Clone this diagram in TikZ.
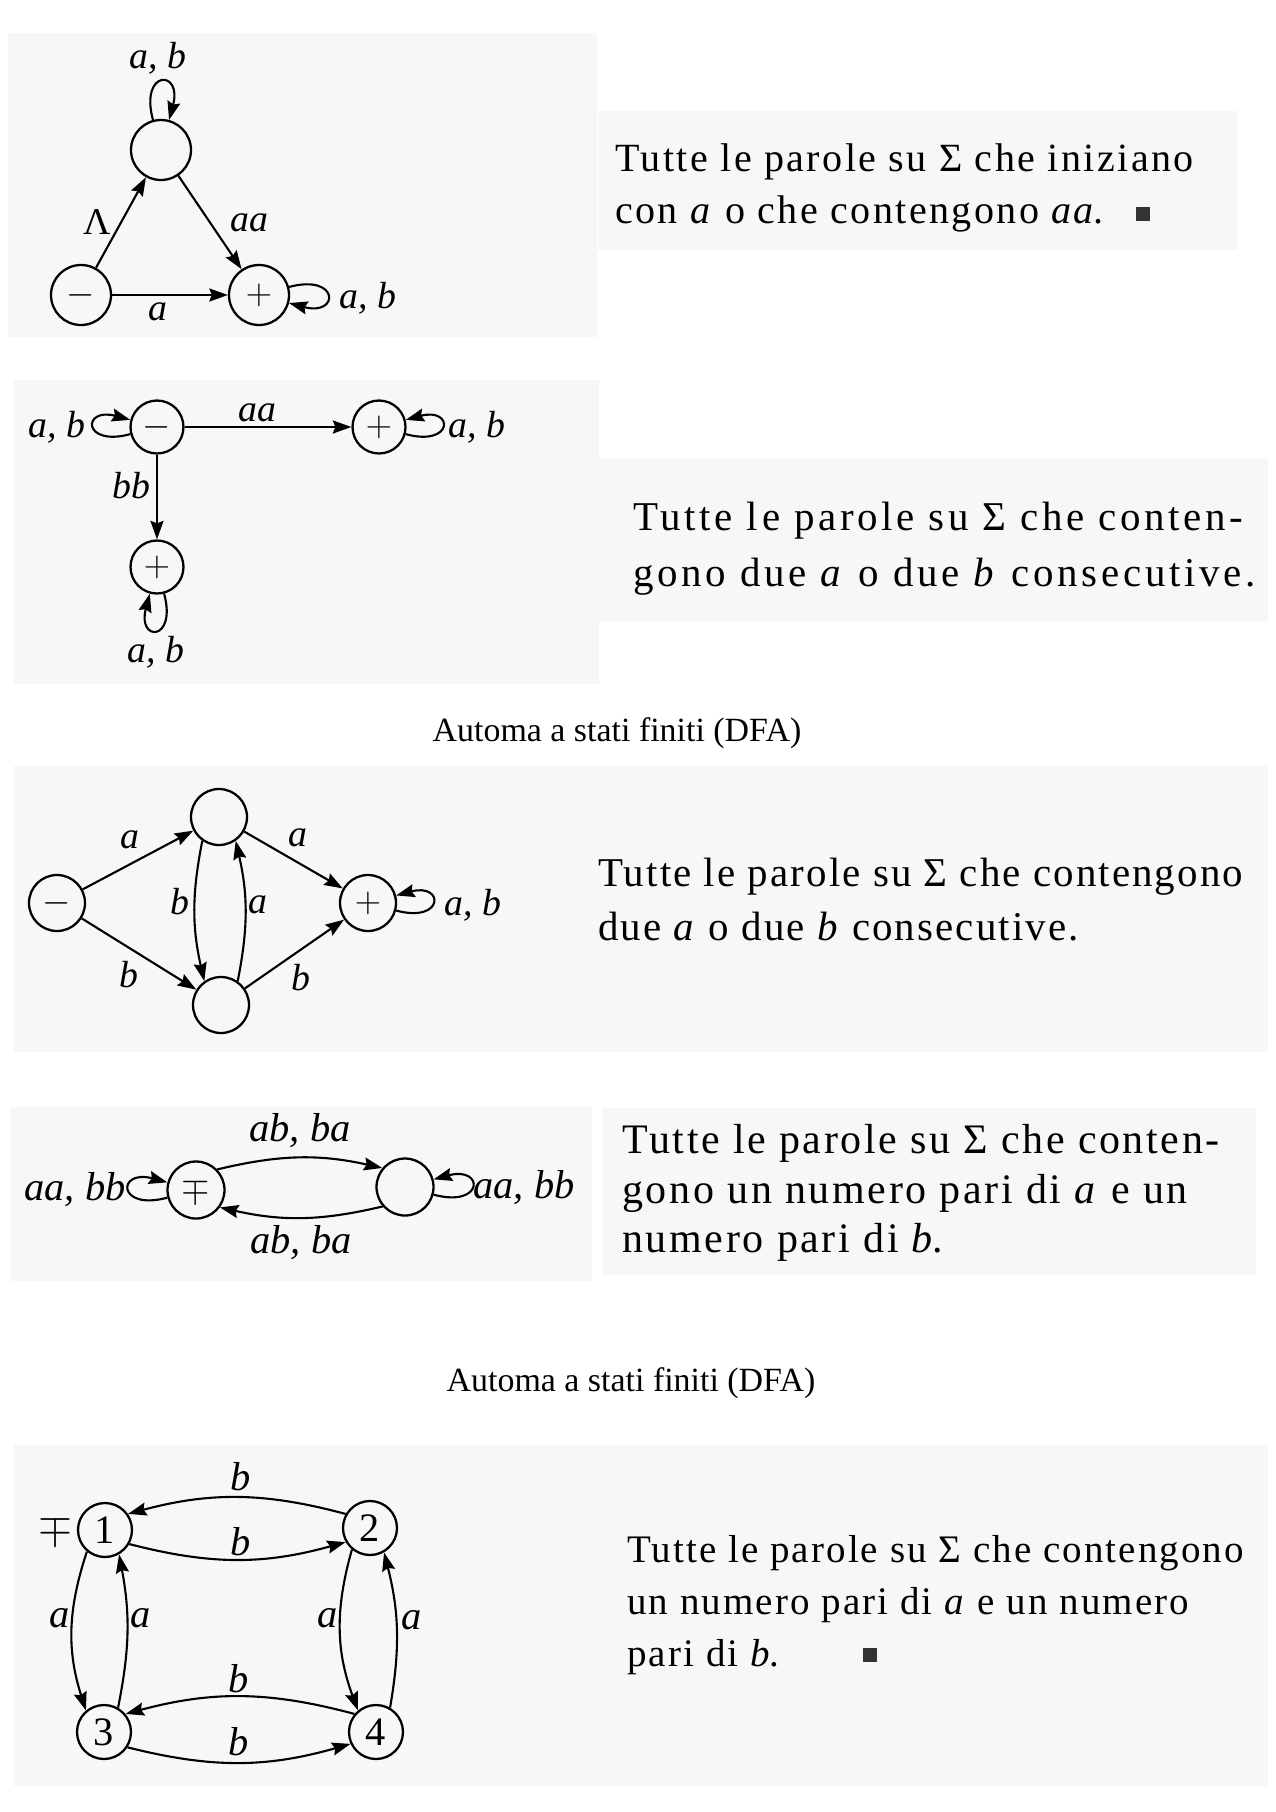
\documentclass[tikz,border=0pt]{standalone}
\usepackage{amsmath, amssymb}
\usepackage{fontspec}
\newfontfamily\titlefont{Liberation Serif}
\newfontfamily\corpo{Liberation Serif}
\usetikzlibrary{arrows.meta}

\tikzset{
  stato/.style={circle, draw, line width=1.3pt, inner sep=0pt, minimum size=#1, font=\fontsize{22}{26}\selectfont},
  stato/.default=1.12cm,
  freccia/.style={->, line width=1.2pt},
  etich/.style={inner sep=0pt, font=\corpo\itshape\fontsize{21.5}{26}\selectfont},
  etichg/.style={inner sep=0pt, font=\corpo\itshape\fontsize{23}{28}\selectfont},
  pannello/.style={fill=black!3},
  testo/.style={align=left, anchor=west, inner sep=0pt},
  fine/.style={fill=black!80, inner sep=0pt, minimum size=0.28cm},
  titolo/.style={font=\titlefont\fontsize{19.3}{23}\selectfont, inner sep=0pt},
}

\begin{document}
\begin{tikzpicture}[x=0.02cm, y=0.02cm, >={Stealth[length=0.37cm, width=0.26cm, inset=0.05cm]}]
    \useasboundingbox (0,0) rectangle (1275,-1812);
    \fill[white] (0,0) rectangle (1275,-1812);

    % Sfondi dei riquadri
    \fill[pannello] (8,-33) rectangle (597,-337);
    \fill[pannello] (598,-111) rectangle (1238,-250);
    \fill[pannello] (14,-380) rectangle (599,-684);
    \fill[pannello] (598,-459) rectangle (1268,-622);
    \fill[pannello] (14,-766) rectangle (1268,-1052);
    \fill[pannello] (10,-1107) rectangle (592,-1281);
    \fill[pannello] (602,-1108) rectangle (1256,-1275);
    \fill[pannello] (14,-1445) rectangle (1268,-1786);

    % Inizia con a o contiene aa
    \node[stato=1.2cm] (q0) at (81,-295) {$-$};
    \node[stato=1.2cm] (q1) at (161,-150) {};
    \node[stato=1.2cm] (q2) at (259,-295) {$+$};
    \draw[freccia] (q0) -- (q1);
    \draw[freccia] (q1) -- (q2);
    \draw[freccia] (q0) -- (q2);
    \draw[freccia] (q1.105) to[out=105, in=75, min distance=1.05cm] (q1.75);
    \draw[freccia] (q2.15) to[out=15, in=-15, min distance=1.05cm] (q2.-15);
    \node[etich] (l1) at (158,-58) {a, b};
    \node[etich, font=\corpo\fontsize{21.5}{26}\selectfont] (l2) at (97,-222) {Λ};
    \node[etich] (l3) at (249,-223) {aa};
    \node[etich] (l4) at (158,-312) {a};
    \node[etich] (l5) at (368,-298) {a, b};
    \node[testo, font=\corpo\fontsize{22.8}{30}\selectfont\addfontfeatures{LetterSpace=6}] (t1) at (615,-188)
        {Tutte le parole su Σ che iniziano\\con \textit{a} o che contengono \textit{aa}.};
    \node[fine] (f1) at (1143,-214) {};

    % Due a o due b consecutive
    \node[stato=1.06cm] (r0) at (157,-427) {$-$};
    \node[stato=1.06cm] (r1) at (379,-427) {$+$};
    \node[stato=1.06cm] (r2) at (157,-567) {$+$};
    \draw[freccia] (r0) -- (r1);
    \draw[freccia] (r0) -- (r2);
    \draw[freccia] (r0.195) to[out=195, in=165, min distance=1cm] (r0.165);
    \draw[freccia] (r1.-15) to[out=-15, in=15, min distance=1cm] (r1.15);
    \draw[freccia] (r2.285) to[out=285, in=255, min distance=1cm] (r2.255);
    \node[etich] (m1) at (57,-427) {a, b};
    \node[etich] (m2) at (257,-413) {aa};
    \node[etich] (m3) at (477,-427) {a, b};
    \node[etich] (m4) at (131,-486) {bb};
    \node[etich] (m5) at (156,-652) {a, b};
    \node[testo, font=\corpo\fontsize{23.3}{32}\selectfont\addfontfeatures{LetterSpace=9}] (t2) at (633,-549)
        {Tutte le parole su Σ che conten-\\gono due \textit{a} o due \textit{b} consecutive.};

    \node[titolo] (h1) at (617,-733) {Automa a stati finiti (DFA)};

    % DFA: due a o due b consecutive
    \node[stato] (s0) at (57,-903) {$-$};
    \node[stato] (s1) at (219,-817) {};
    \node[stato] (s2) at (221,-1005) {};
    \node[stato] (s3) at (368,-903) {$+$};
    \draw[freccia] (s0) -- (s1);
    \draw[freccia] (s0) -- (s2);
    \draw[freccia] (s1) -- (s3);
    \draw[freccia] (s2) -- (s3);
    \draw[freccia] (s1.235) to[bend right=12] (s2.125);
    \draw[freccia] (s2.55) to[bend right=12] (s1.305);
    \draw[freccia] (s3.-15) to[out=-15, in=15, min distance=1cm] (s3.15);
    \node[etich] (n1) at (130,-840) {a};
    \node[etich] (n2) at (298,-838) {a};
    \node[etich] (n3) at (129,-975) {b};
    \node[etich] (n4) at (301,-978) {b};
    \node[etich] (n5) at (180,-902) {b};
    \node[etich] (n6) at (258,-905) {a};
    \node[etich] (n7) at (473,-905) {a, b};
    \node[testo, font=\corpo\fontsize{23.3}{30.7}\selectfont\addfontfeatures{LetterSpace=5.1}] (t3) at (598,-900)
        {Tutte le parole su Σ che contengono\\due \textit{a} o due \textit{b} consecutive.};

    % Numero pari di a e di b (a coppie)
    \node[stato=1.14cm] (p0) at (196,-1190) {$\mp$};
    \node[stato=1.14cm] (p1) at (405,-1187) {};
    \draw[freccia] (p0.44) to[bend left=13] (p1.140);
    \draw[freccia] (p1.221) to[bend left=13] (p0.324);
    \draw[freccia] (p0.195) to[out=195, in=165, min distance=1.05cm] (p0.165);
    \draw[freccia] (p1.-15) to[out=-15, in=15, min distance=1.05cm] (p1.15);
    \node[etichg] (o1) at (300,-1131) {ab, ba};
    \node[etichg] (o2) at (301,-1243) {ab, ba};
    \node[etichg] (o3) at (75,-1190) {aa, bb};
    \node[etichg] (o4) at (524,-1188) {aa, bb};
    \node[testo, font=\corpo\fontsize{23.9}{28.2}\selectfont\addfontfeatures{LetterSpace=6.3}] (t4) at (622,-1193)
        {Tutte le parole su Σ che conten-\\gono un numero pari di \textit{a} e un\\numero pari di \textit{b}.};

    \node[titolo] (h2) at (631,-1383) {Automa a stati finiti (DFA)};

    % DFA: numero pari di a e di b
    \node[stato=1.08cm, font=\corpo\fontsize{23}{28}\selectfont] (k1) at (105,-1530) {1};
    \node[stato=1.08cm, font=\corpo\fontsize{23}{28}\selectfont] (k2) at (370,-1528) {2};
    \node[stato=1.08cm, font=\corpo\fontsize{23}{28}\selectfont] (k3) at (104,-1732) {3};
    \node[stato=1.08cm, font=\corpo\fontsize{23}{28}\selectfont] (k4) at (376,-1732) {4};
    \draw[freccia] (k2.150) to[bend right=15] (k1.35);
    \draw[freccia] (k1.330) to[bend right=15] (k2.210);
    \draw[freccia] (k4.140) to[bend right=15] (k3.40);
    \draw[freccia] (k3.327) to[bend right=15] (k4.205);
    \draw[freccia] (k1.230) to[bend right=18] (k3.130);
    \draw[freccia] (k3.60) to[bend right=11] (k1.300);
    \draw[freccia] (k2.230) to[bend right=18] (k4.130);
    \draw[freccia] (k4.60) to[bend right=12] (k2.300);
    \node[etichg, font=\fontsize{24}{28}\selectfont] (w0) at (55,-1530) {$\mp$};
    \node[etichg] (w1) at (241,-1477) {b};
    \node[etichg] (w2) at (241,-1542) {b};
    \node[etichg] (w3) at (239,-1679) {b};
    \node[etichg] (w4) at (239,-1742) {b};
    \node[etichg] (w5) at (60,-1618) {a};
    \node[etichg] (w6) at (141,-1618) {a};
    \node[etichg] (w7) at (328,-1618) {a};
    \node[etichg] (w8) at (412,-1620) {a};
    \node[testo, font=\corpo\fontsize{22.2}{29.5}\selectfont\addfontfeatures{LetterSpace=5.3}] (t5) at (627,-1605)
        {Tutte le parole su Σ che contengono\\un numero pari di \textit{a} e un numero\\pari di \textit{b}.};
    \node[fine] (f2) at (870,-1655) {};
\end{tikzpicture}
\end{document}
